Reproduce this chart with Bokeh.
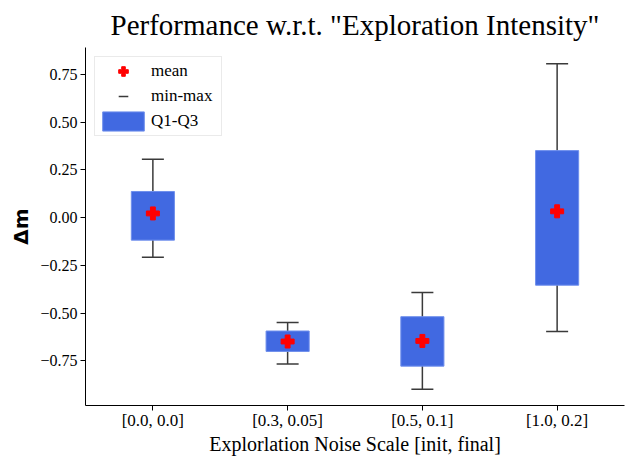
from bokeh.plotting import figure
from bokeh.models import (ColumnDataSource, FactorRange, Range1d, FixedTicker,
                          Legend, LegendItem)
from bokeh.embed import file_html
from bokeh.resources import INLINE

# ---- data ----
categories = ["[0.0, 0.0]", "[0.3, 0.05]", "[0.5, 0.1]", "[1.0, 0.2]"]
mins = [-0.208, -0.767, -0.899, -0.597]
q1 = [-0.118, -0.701, -0.778, -0.354]
q3 = [0.137, -0.594, -0.519, 0.351]
maxs = [0.306, -0.549, -0.392, 0.806]
means = [0.022, -0.649, -0.646, 0.033]

y_ticks = [-0.75, -0.5, -0.25, 0.0, 0.25, 0.5, 0.75]
y_tick_labels = ["\u22120.75", "\u22120.50", "\u22120.25", "0.00", "0.25", "0.50", "0.75"]

title_text = 'Performance w.r.t. "Exploration Intensity"'
x_label = "Explorlation Noise Scale [init, final]"
y_label = "\u0394m"

SERIF = "Liberation Serif"
BOX_COLOR = "#4169E1"
WHISKER_COLOR = "#3a3a3a"

src = ColumnDataSource(dict(cat=categories, mins=mins, q1=q1, q3=q3,
                            maxs=maxs, means=means))

lo, hi = min(mins), max(maxs)
pad = 0.05 * (hi - lo)

p = figure(width=632, height=457,
           x_range=FactorRange(*categories, range_padding=0),
           y_range=Range1d(lo - pad, hi + pad),
           output_backend="svg", toolbar_location=None,
           title=title_text,
           min_border_left=85, min_border_right=8,
           min_border_top=47, min_border_bottom=50)

# whiskers (min-max)
stems = p.segment(x0="cat", y0="mins", x1="cat", y1="maxs", source=src,
                  line_color=WHISKER_COLOR, line_width=1.5)
caps_lo = p.scatter(x="cat", y="mins", source=src, marker="dash", size=22,
                    line_color=WHISKER_COLOR, line_width=1.5)
caps_hi = p.scatter(x="cat", y="maxs", source=src, marker="dash", size=22,
                    line_color=WHISKER_COLOR, line_width=1.5)

# boxes Q1-Q3
boxes = p.vbar(x="cat", bottom="q1", top="q3", width=0.32, source=src,
               fill_color=BOX_COLOR, line_color="#6f8fec", line_width=1)

# means
mean_r = p.scatter(x="cat", y="means", source=src, marker="plus", size=13,
                   fill_color="red", line_color="red")

legend = Legend(items=[
    LegendItem(label="mean", renderers=[mean_r]),
    LegendItem(label="min-max", renderers=[caps_lo]),
    LegendItem(label="Q1-Q3", renderers=[boxes]),
], location="top_left", margin=9, padding=2, spacing=1,
   glyph_width=52, glyph_height=24, label_standoff=2, label_width=68,
   label_text_font=SERIF, label_text_font_size="17px",
   label_text_color="black",
   border_line_color="#d6d6d6", border_line_width=1,
   background_fill_alpha=0.8)
p.add_layout(legend)

# title
p.title.text_font = SERIF
p.title.text_font_size = "29px"
p.title.text_font_style = "normal"
p.title.text_color = "black"
p.title.align = "center"
p.title.vertical_align = "top"
p.title.standoff = 10

# axes
p.grid.visible = False
p.outline_line_color = None

for ax in (p.xaxis[0], p.yaxis[0]):
    ax.axis_line_color = "black"
    ax.axis_line_width = 1
    ax.major_tick_line_color = "black"
    ax.major_tick_out = 5
    ax.major_tick_in = 0
    ax.minor_tick_line_color = None
    ax.major_label_text_font = SERIF
    ax.major_label_text_color = "black"
    ax.axis_label_text_color = "black"

p.xaxis[0].major_label_text_font_size = "17px"
p.xaxis[0].major_label_standoff = 0
p.yaxis[0].major_label_text_font_size = "16px"
p.yaxis[0].major_label_standoff = 3

p.yaxis[0].ticker = FixedTicker(ticks=y_ticks)
p.yaxis[0].major_label_overrides = {t: s for t, s in zip(y_ticks, y_tick_labels)}

p.xaxis[0].axis_label = x_label
p.xaxis[0].axis_label_text_font = SERIF
p.xaxis[0].axis_label_text_font_size = "20px"
p.xaxis[0].axis_label_text_font_style = "normal"
p.xaxis[0].axis_label_standoff = 0

p.yaxis[0].axis_label = y_label
p.yaxis[0].axis_label_text_font = "DejaVu Sans"
p.yaxis[0].axis_label_text_font_size = "20px"
p.yaxis[0].axis_label_text_font_style = "bold"
p.yaxis[0].axis_label_standoff = 4

open("out.html", "w").write(file_html(p, INLINE))
